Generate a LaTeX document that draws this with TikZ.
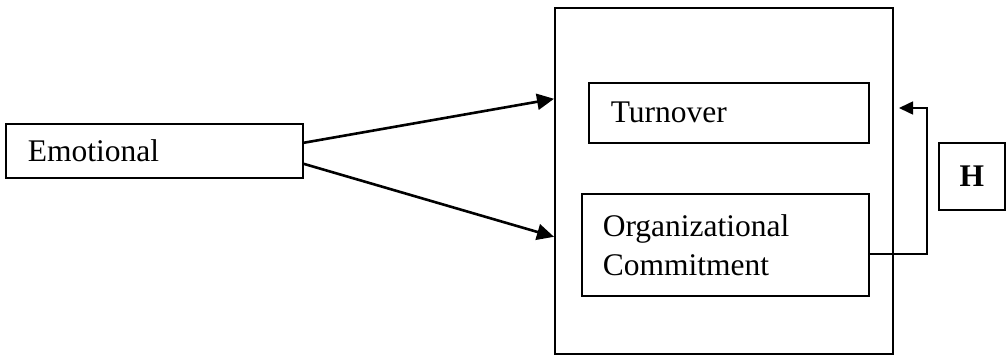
\documentclass[tikz,border=0pt]{standalone}
\usepackage{fontspec}
\setmainfont{Liberation Serif}
\usepackage{tikz}
\usetikzlibrary{arrows.meta}

\tikzset{
  box/.style={draw, line width=1.6pt, anchor=north west, align=left},
  link/.style={line width=2.6pt, -{Triangle[length=17pt,width=16pt]}},
  feed/.style={line width=1.6pt, -{Triangle[length=14pt,width=13pt]}}
}

\begin{document}
\begin{tikzpicture}[x=1pt, y=-1pt, font=\fontsize{31.5}{39}\selectfont]
\useasboundingbox (0,0) rectangle (1006,355);

\node[box, minimum width=297pt, minimum height=54pt, inner xsep=22pt, text width=253pt] (emo) at (5,123) {Emotional};
\node[box, minimum width=338pt, minimum height=346pt] (outer) at (554,7) {};
\node[box, minimum width=280pt, minimum height=60pt, inner xsep=22pt, text width=236pt] (turn) at (588,82) {Turnover};
\node[box, minimum width=287pt, minimum height=102pt, inner xsep=21pt, text width=245pt] (org) at (581,193) {Organizational\\Commitment};
\node[box, minimum width=66pt, minimum height=67pt, align=center] (h) at (938,142) {\textbf{H}};

% arrows into the outcomes
\draw[link] ([yshift=8pt]emo.east) -- ([yshift=82pt]outer.west);
\draw[link] ([yshift=-13pt]emo.east) -- ([yshift=-56pt]outer.west);

% feedback
\coordinate (fbturn) at (927,108);
\coordinate (fbtip) at (899,108);
\draw[feed] ([yshift=-9pt]org.east) -| (fbturn) -- (fbtip);
\end{tikzpicture}
\end{document}
